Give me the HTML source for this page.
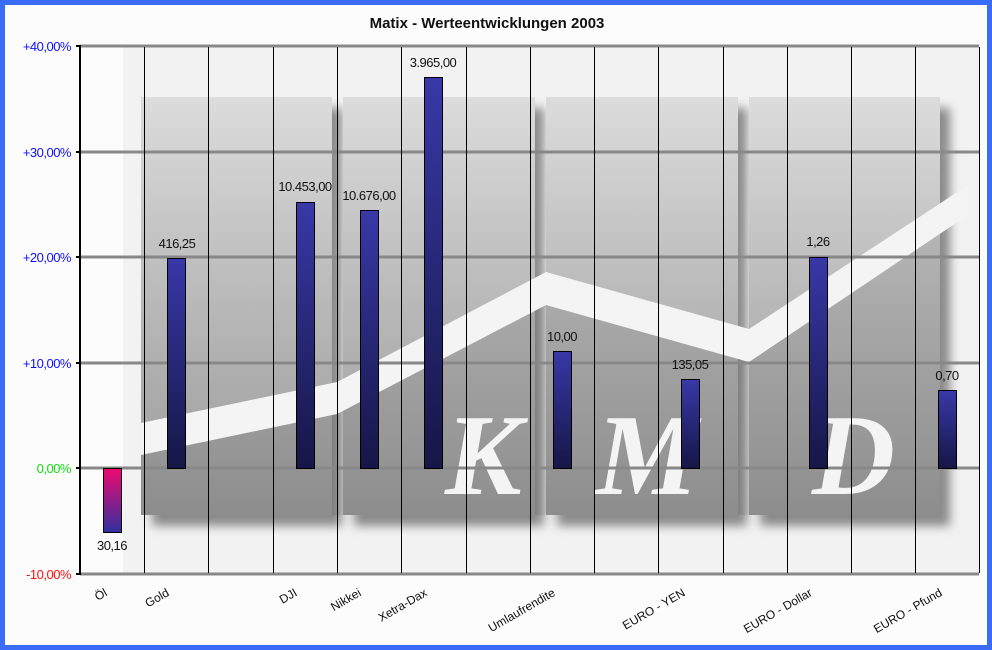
<!DOCTYPE html>
<html><head><style>body{margin:0;background:#fff}svg{display:block}text{font-family:"Liberation Sans",sans-serif}</style></head><body>
<svg width="992" height="650" viewBox="0 0 992 650" xmlns="http://www.w3.org/2000/svg">
<defs>
<linearGradient id="pb" x1="0" y1="0" x2="0" y2="1"><stop offset="0" stop-color="#dcdcdc"/><stop offset="0.5" stop-color="#b8b8b8"/><stop offset="1" stop-color="#9a9a9a"/></linearGradient>
<linearGradient id="bar" x1="0" y1="0" x2="0" y2="1"><stop offset="0" stop-color="#3838a8"/><stop offset="1" stop-color="#161646"/></linearGradient>
<linearGradient id="neg" x1="0" y1="0" x2="0" y2="1"><stop offset="0" stop-color="#f00a70"/><stop offset="1" stop-color="#3030a0"/></linearGradient>
<filter id="bl"><feGaussianBlur stdDeviation="5"/></filter>
</defs>
<rect x="0" y="0" width="992" height="650" fill="#3a6cf8"/>
<rect x="5" y="5" width="982" height="640" fill="#fcfcfc"/>
<text x="487" y="28" text-anchor="middle" font-size="15" font-weight="bold" fill="#111">Matix - Werteentwicklungen 2003</text>
<rect x="123" y="47" width="856" height="527" fill="#f2f2f2"/>
<g fill="#8a8a8a" filter="url(#bl)">
<rect x="152" y="108" width="190" height="418"/><rect x="354" y="108" width="190" height="418"/><rect x="557" y="108" width="190" height="418"/><rect x="760" y="108" width="190" height="418"/>
</g>
<g fill="url(#pb)">
<rect x="141" y="97" width="191" height="418"/><rect x="343" y="97" width="192" height="418"/><rect x="546" y="97" width="192" height="418"/><rect x="749" y="97" width="191" height="418"/>
</g>
<polygon points="141,455 337,414 546,305 749,362 940,232 940,515 141,515" fill="#000" opacity="0.08"/>
<polygon points="141,423 337,382 546,272 749,329 968,185 968,215 749,362 546,305 337,414 141,455" fill="#f4f4f4"/>
<g fill="#f4f4f4" style="font-family:'Liberation Serif',serif;font-style:italic;font-weight:bold" font-size="115">
<text x="445" y="494" style="font-family:'Liberation Serif',serif">K</text><text x="596" y="494" style="font-family:'Liberation Serif',serif">M</text><text x="812" y="494" style="font-family:'Liberation Serif',serif">D</text></g>
<g stroke="#888" stroke-width="3">
<line x1="80" y1="46" x2="979" y2="46"/><line x1="80" y1="152" x2="979" y2="152"/><line x1="80" y1="257" x2="979" y2="257"/><line x1="80" y1="363" x2="979" y2="363"/><line x1="80" y1="468" x2="979" y2="468"/><line x1="80" y1="574" x2="979" y2="574"/></g>
<g stroke="#000" stroke-width="1">
<line x1="144.5" y1="47" x2="144.5" y2="573"/><line x1="208.5" y1="47" x2="208.5" y2="573"/><line x1="273.5" y1="47" x2="273.5" y2="573"/><line x1="337.5" y1="47" x2="337.5" y2="573"/><line x1="401.5" y1="47" x2="401.5" y2="573"/><line x1="466.5" y1="47" x2="466.5" y2="573"/><line x1="530.5" y1="47" x2="530.5" y2="573"/><line x1="594.5" y1="47" x2="594.5" y2="573"/><line x1="658.5" y1="47" x2="658.5" y2="573"/><line x1="723.5" y1="47" x2="723.5" y2="573"/><line x1="787.5" y1="47" x2="787.5" y2="573"/><line x1="851.5" y1="47" x2="851.5" y2="573"/><line x1="915.5" y1="47" x2="915.5" y2="573"/><line x1="979.5" y1="47" x2="979.5" y2="573"/></g>
<line x1="80" y1="45" x2="80" y2="575" stroke="#000" stroke-width="2"/>
<g stroke="#000" stroke-width="2"><line x1="76" y1="46" x2="80" y2="46"/><line x1="76" y1="152" x2="80" y2="152"/><line x1="76" y1="257" x2="80" y2="257"/><line x1="76" y1="363" x2="80" y2="363"/><line x1="76" y1="468" x2="80" y2="468"/><line x1="76" y1="574" x2="80" y2="574"/></g>
<g font-size="13" text-anchor="end" letter-spacing="-0.5">
<text x="71" y="51" fill="#1010ff">+40,00%</text><text x="71" y="157" fill="#1010ff">+30,00%</text><text x="71" y="262" fill="#1010ff">+20,00%</text><text x="71" y="368" fill="#1010ff">+10,00%</text><text x="71" y="473" fill="#10e010">0,00%</text><text x="71" y="579" fill="#ff1010">-10,00%</text></g>
<g stroke="#000" stroke-width="1">
<rect x="103.5" y="468.5" width="18" height="64" fill="url(#neg)"/>
<rect x="167.5" y="258.5" width="18" height="210" fill="url(#bar)"/>
<rect x="296.5" y="202.5" width="18" height="266" fill="url(#bar)"/>
<rect x="360.5" y="210.5" width="18" height="258" fill="url(#bar)"/>
<rect x="424.5" y="77.5" width="18" height="391" fill="url(#bar)"/>
<rect x="553.5" y="351.5" width="18" height="117" fill="url(#bar)"/>
<rect x="681.5" y="379.5" width="18" height="89" fill="url(#bar)"/>
<rect x="809.5" y="257.5" width="18" height="211" fill="url(#bar)"/>
<rect x="938.5" y="390.5" width="18" height="78" fill="url(#bar)"/></g>
<g font-size="13" text-anchor="middle" fill="#111" letter-spacing="-0.5">
<text x="112" y="550">30,16</text><text x="177" y="248">416,25</text><text x="305" y="191">10.453,00</text><text x="369" y="200">10.676,00</text><text x="433" y="67">3.965,00</text><text x="562" y="341">10,00</text><text x="690" y="369">135,05</text><text x="818" y="246">1,26</text><text x="947" y="380">0,70</text></g>
<g font-size="12" text-anchor="end" fill="#111">
<text transform="translate(108,595) rotate(-30)">Öl</text>
<text transform="translate(170,595) rotate(-30)">Gold</text>
<text transform="translate(298,595) rotate(-30)">DJI</text>
<text transform="translate(362,595) rotate(-30)">Nikkei</text>
<text transform="translate(428,595) rotate(-30)">Xetra-Dax</text>
<text transform="translate(556,595) rotate(-30)">Umlaufrendite</text>
<text transform="translate(686,595) rotate(-30)">EURO - YEN</text>
<text transform="translate(813,595) rotate(-30)">EURO - Dollar</text>
<text transform="translate(943,595) rotate(-30)">EURO - Pfund</text></g>
</svg>
</body></html>
